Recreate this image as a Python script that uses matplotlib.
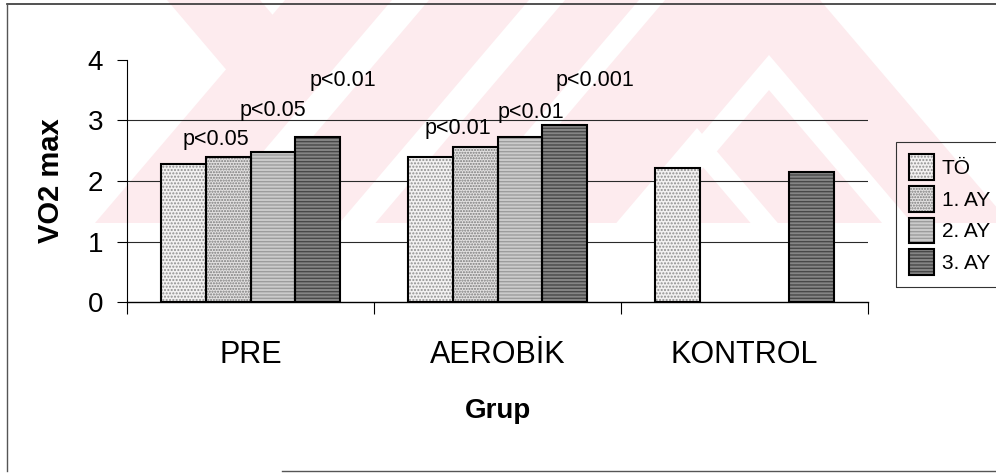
import numpy as np
import matplotlib
matplotlib.use('Agg')
import matplotlib.pyplot as plt
from matplotlib.patches import Polygon, Patch
from matplotlib.lines import Line2D
from matplotlib.legend_handler import HandlerTuple

plt.rcParams['font.family'] = ['Liberation Sans', 'DejaVu Sans']

# VO2 max by group and measurement period
groups = ['PRE', 'AEROBİK', 'KONTROL']
periods = ['TÖ', '1. AY', '2. AY', '3. AY']
vo2_to = [2.28, 2.40, 2.21]
vo2_ay1 = [2.40, 2.56, np.nan]
vo2_ay2 = [2.48, 2.73, np.nan]
vo2_ay3 = [2.73, 2.93, 2.15]

# significance labels: group index, period index, text
p_group = [0, 0, 0, 1, 1, 1]
p_period = [1, 2, 3, 1, 2, 3]
p_text = ['p<0.05', 'p<0.05', 'p<0.01', 'p<0.01', 'p<0.01', 'p<0.001']

W, H = 996, 473
fig = plt.figure(figsize=(W / 100, H / 100), dpi=100)


def fpix(pts):
    # pixel coords (origin top left) -> figure fraction
    return [(px / W, 1 - py / H) for px, py in pts]


# faint background stamp
pink = [(167, 0), (260, 0), (272.5, 14.7), (285, 0), (820, 0), (1010, 223),
        (95, 223), (226, 69.4)]
gaps = [
    [(392, 0), (429, 0), (239.4, 223), (202.4, 223)],
    [(529, 0), (565, 0), (375.4, 223), (339.4, 223)],
    [(639, 0), (665, 0), (475.4, 223), (449.4, 223)],
    [(626.2, 223), (769, 55), (911.8, 223), (882, 223), (769, 90), (656, 223)],
    [(616.3, 223), (697, 128), (777.8, 223), (750.6, 223), (697, 160), (643.4, 223)],
]
fig.add_artist(Polygon(fpix(pink), closed=True, transform=fig.transFigure,
                       fc='#fdebee', ec='none', zorder=-3))
for g in gaps:
    fig.add_artist(Polygon(fpix(g), closed=True, transform=fig.transFigure,
                           fc='white', ec='none', zorder=-2))

# outer border
fig.add_artist(Line2D([7 / W, 1], [1 - 4 / H, 1 - 4 / H], transform=fig.transFigure, color='#333333', lw=1.2))
fig.add_artist(Line2D([7 / W, 7 / W], [1 - 4 / H, 1 - 471 / H], transform=fig.transFigure, color='#555555', lw=1.0))
fig.add_artist(Line2D([282 / W, 1], [1 - 471 / H, 1 - 471 / H], transform=fig.transFigure, color='#555555', lw=1.0))

ax = fig.add_axes([127 / W, 1 - 302 / H, 741 / W, 242 / H])
ax.set_facecolor('none')

x = np.arange(len(groups))
w = 0.182
series = [vo2_to, vo2_ay1, vo2_ay2, vo2_ay3]
faces = ['#f3f1f1', '#e3e1e1', '#cbcbcb', '#858585']
hatches = ['.....', '......', '-----', '-----']
hatch_cols = ['#8f8f8f', '#7a7a7a', '#9c9c9c', '#484848']

for i, vals in enumerate(series):
    xs = x + (i - 1.5) * w
    ax.bar(xs, vals, w, color=faces[i], hatch=hatches[i], edgecolor=hatch_cols[i], linewidth=0, zorder=2)
    ax.bar(xs, vals, w, fill=False, edgecolor='black', linewidth=1.5, zorder=3)

yt = np.arange(0, 5)
for y in yt[1:-1]:
    ax.axhline(y, color='#2a2a2a', lw=0.8, zorder=1)

# p-value labels, offsets in pixels from the bar top
p_offsets = [(-12, 17), (0, 41), (25, 56), (-17, 19), (11, 24), (30, 44)]
for g, s, t, (dx, dy) in zip(p_group, p_period, p_text, p_offsets):
    ax.annotate(t, (x[g] + (s - 1.5) * w, series[s][g]), xytext=(dx, dy),
                textcoords='offset pixels', ha='center', va='center', fontsize=15.5)

ax.set_xlim(-0.5, 2.5)
ax.set_ylim(0, 4)
ax.set_yticks(yt)
ax.set_xticks(x)
ax.set_xticklabels(groups)
ax.set_xticks(np.arange(len(groups) + 1) - 0.5, minor=True)
ax.tick_params(axis='y', direction='out', length=7.2, width=0.8, pad=10, labelsize=20)
ax.tick_params(axis='x', which='major', length=0, pad=27, labelsize=22)
ax.tick_params(axis='x', which='minor', direction='out', length=8.6, width=0.8)
for side in ['top', 'right']:
    ax.spines[side].set_visible(False)
ax.spines['left'].set_linewidth(0.8)
ax.spines['bottom'].set_linewidth(1.0)

ax.set_ylabel('VO2 max', fontsize=21, fontweight='bold', va='center')
ax.yaxis.set_label_coords((51 - 127) / 741, 0.5)
ax.set_xlabel('Grup', fontsize=20, fontweight='bold')
ax.xaxis.set_label_coords(0.5, -0.397)

handles = [(Patch(facecolor=faces[i], hatch=hatches[i], edgecolor=hatch_cols[i], lw=0),
            Patch(fill=False, edgecolor='black', lw=1.5)) for i in range(len(periods))]
leg = ax.legend(handles, periods, handler_map={tuple: HandlerTuple(ndivide=1, pad=0)},
                loc='upper left', mode='expand',
                bbox_to_anchor=(896 / W, 1 - 295 / H, 130 / W, 153 / H), bbox_transform=fig.transFigure,
                fontsize=15, fancybox=False, handlelength=1.2, handleheight=1.5,
                labelspacing=0.3, handletextpad=0.4, borderpad=0.6, borderaxespad=0)
frame = leg.get_frame()
frame.set_facecolor('none')
frame.set_edgecolor('#333333')
frame.set_linewidth(0.8)
frame.set_alpha(None)

fig.savefig('out.png', dpi=100)
